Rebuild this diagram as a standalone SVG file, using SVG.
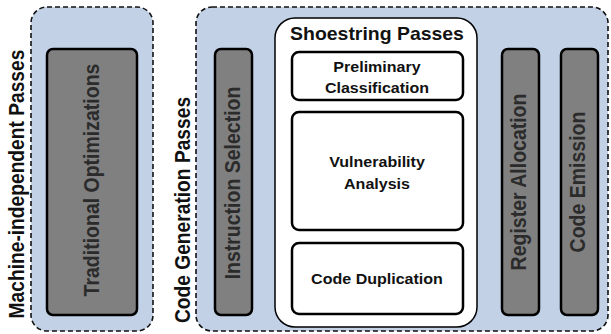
<svg xmlns="http://www.w3.org/2000/svg" width="611" height="334" viewBox="0 0 611 334">
  <style>
    .group { fill: #c2d1e6; stroke: #111; stroke-width: 1.6; stroke-dasharray: 5 3; }
    .pass { fill: #808080; stroke: #000; stroke-width: 2.5; }
    .sub { fill: #fff; stroke: #000; stroke-width: 2.5; }
    .frame { fill: #fff; stroke: #000; stroke-width: 1.5; }
    text { font-family: "Liberation Sans", Arial, sans-serif; font-weight: bold; text-anchor: middle; }
    .glabel { font-size: 19.2px; fill: #111; }
    .plabel { font-size: 19.5px; fill: #2b2b2b; }
    .slabel { font-size: 15px; fill: #111; }
    .title { font-size: 18px; fill: #111; }
  </style>

  <!-- Machine-independent stage -->
  <g id="machine-independent">
    <rect class="group" x="31" y="7" width="122" height="324" rx="16"/>
    <text class="glabel" transform="translate(24,184) scale(1.12,1) rotate(-90)">Machine-independent Passes</text>
  </g>
  <g id="traditional-optimizations">
    <rect class="pass" x="47" y="49" width="90" height="266" rx="6"/>
    <text class="plabel" transform="translate(99,180) scale(1.12,1) rotate(-90)">Traditional Optimizations</text>
  </g>

  <!-- Code generation stage -->
  <g id="code-generation">
    <rect class="group" x="196" y="7" width="412" height="324" rx="16"/>
    <text class="glabel" transform="translate(190,210) scale(1.12,1) rotate(-90)">Code Generation Passes</text>
  </g>
  <g id="instruction-selection">
    <rect class="pass" x="215" y="49" width="37" height="266" rx="6"/>
    <text class="plabel" transform="translate(240,183) scale(1.1,1) rotate(-90)">Instruction Selection</text>
  </g>

  <g id="shoestring-passes">
    <rect class="frame" x="275" y="18" width="202" height="309" rx="20"/>
    <text class="title" transform="translate(377,40) scale(1.08,1)">Shoestring Passes</text>
  </g>
  <g id="preliminary-classification">
    <rect class="sub" x="292" y="52" width="171" height="48" rx="7"/>
    <text class="slabel" transform="translate(377,72) scale(1.07,1)">Preliminary</text>
    <text class="slabel" transform="translate(377,93) scale(1.07,1)">Classification</text>
  </g>
  <g id="vulnerability-analysis">
    <rect class="sub" x="292" y="112" width="171" height="118" rx="7"/>
    <text class="slabel" transform="translate(377,167) scale(1.07,1)">Vulnerability</text>
    <text class="slabel" transform="translate(377,189) scale(1.07,1)">Analysis</text>
  </g>
  <g id="code-duplication">
    <rect class="sub" x="292" y="243" width="171" height="71" rx="7"/>
    <text class="slabel" transform="translate(377,284) scale(1.07,1)">Code Duplication</text>
  </g>

  <g id="register-allocation">
    <rect class="pass" x="502" y="49" width="37" height="266" rx="6"/>
    <text class="plabel" transform="translate(526,182) scale(1.1,1) rotate(-90)">Register Allocation</text>
  </g>
  <g id="code-emission">
    <rect class="pass" x="561" y="49" width="37" height="266" rx="6"/>
    <text class="plabel" transform="translate(585,182) scale(1.1,1) rotate(-90)">Code Emission</text>
  </g>

  <g id="connectors"></g>
</svg>
